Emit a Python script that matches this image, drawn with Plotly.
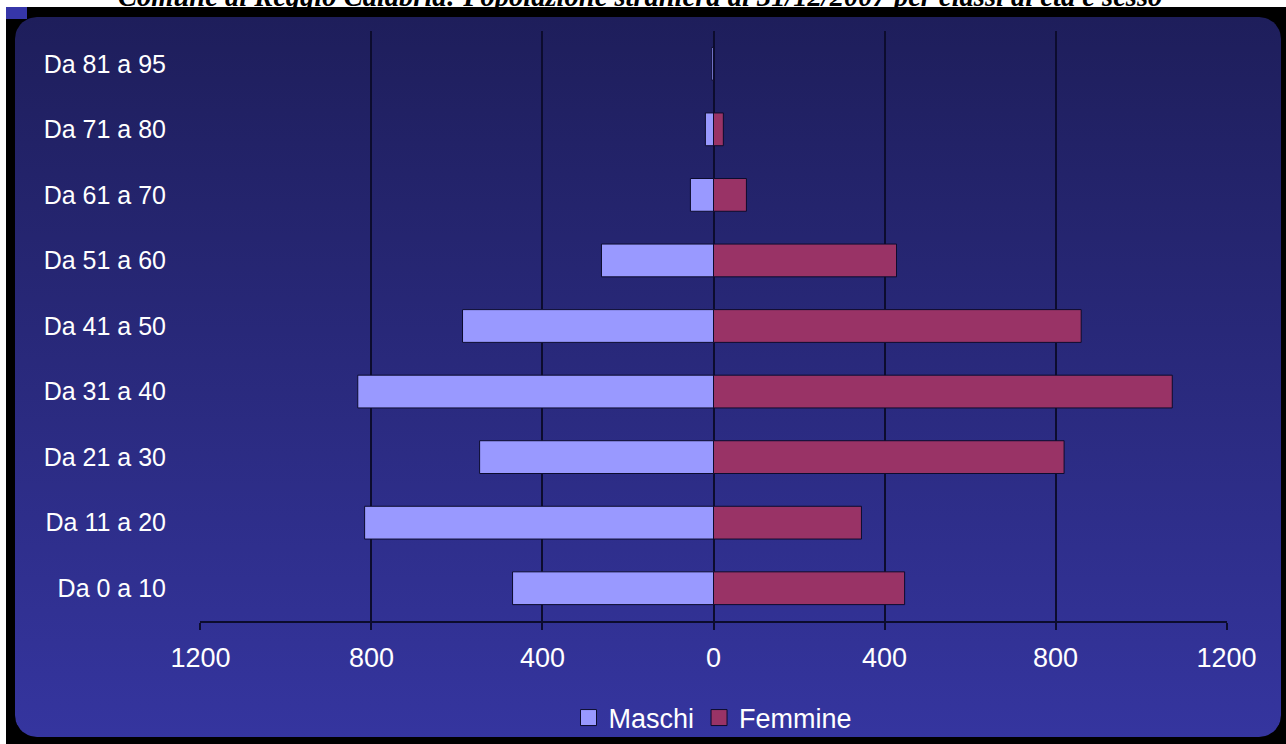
import numpy as np
import plotly.graph_objects as go

# ---------------- data ----------------
categories = ["Da 0 a 10", "Da 11 a 20", "Da 21 a 30", "Da 31 a 40", "Da 41 a 50",
              "Da 51 a 60", "Da 61 a 70", "Da 71 a 80", "Da 81 a 95"]
maschi = [470, 816, 547, 832, 587, 262, 54, 19, 4]
femmine = [447, 346, 820, 1073, 860, 428, 77, 23, 1]
tick_vals = [-1200, -800, -400, 0, 400, 800, 1200]
tick_text = ["1200", "800", "400", "0", "400", "800", "1200"]
title_text = "Comune di Reggio Calabria: Popolazione straniera al 31/12/2007 per classi di età e sesso"

W, H = 1286, 744


def px(x):
    return x / W


def py(y):
    return 1 - y / H


# rounded panel outline (pixel geometry)
L, T, R, B, rad = 15, 17, 1281, 737, 22
pts = []
for cx, cy, a0 in [(R - rad, T + rad, -90), (R - rad, B - rad, 0), (L + rad, B - rad, 90), (L + rad, T + rad, 180)]:
    for a in np.linspace(a0, a0 + 90, 12):
        t = np.radians(a)
        pts.append((cx + rad * np.cos(t), cy + rad * np.sin(t)))
pts.append(pts[0])
panel_x = [p[0] for p in pts]
panel_y = [H - p[1] for p in pts]

fig = go.Figure()

fig.add_trace(go.Scatter(
    x=panel_x, y=panel_y, mode="lines", fill="toself",
    line=dict(width=0, color="rgba(0,0,0,0)"),
    fillgradient=dict(type="vertical", colorscale=[[0, "#35359f"], [1, "#1e1e5b"]]),
    hoverinfo="skip", showlegend=False, xaxis="x", yaxis="y"))

dark = "#0c0c2e"
fig.add_trace(go.Bar(
    y=categories, x=[-v for v in maschi], orientation="h", name="Maschi",
    marker=dict(color="#9999ff", line=dict(color=dark, width=1)),
    customdata=maschi, hovertemplate="%{y}: %{customdata}<extra>Maschi</extra>",
    showlegend=False, xaxis="x2", yaxis="y2"))
fig.add_trace(go.Bar(
    y=categories, x=femmine, orientation="h", name="Femmine",
    marker=dict(color="#993366", line=dict(color=dark, width=1)),
    hovertemplate="%{y}: %{x}<extra>Femmine</extra>",
    showlegend=False, xaxis="x2", yaxis="y2"))

# legend entries
for nm, col in [("Maschi", "#9999ff"), ("Femmine", "#993366")]:
    fig.add_trace(go.Scatter(
        x=[None], y=[None], mode="markers", name=nm,
        marker=dict(symbol="square", size=16, color=col, line=dict(color=dark, width=1)),
        xaxis="x", yaxis="y"))

fig.update_layout(
    width=W, height=H,
    margin=dict(l=0, r=0, t=0, b=0, autoexpand=False),
    paper_bgcolor="white",
    plot_bgcolor="rgba(0,0,0,0)",
    barmode="relative",
    bargap=0.5,
    font=dict(family="Arial, Liberation Sans, sans-serif", color="white"),
    xaxis=dict(domain=[0, 1], range=[0, W], visible=False, fixedrange=True, automargin=False),
    yaxis=dict(domain=[0, 1], range=[0, H], visible=False, fixedrange=True, automargin=False),
    xaxis2=dict(domain=[px(200), px(1227)], anchor="y2", range=[-1201, 1201],
                tickvals=tick_vals, ticktext=tick_text, automargin=False,
                showgrid=True, gridcolor=dark, gridwidth=1.5,
                zeroline=True, zerolinecolor=dark, zerolinewidth=1.5,
                showline=True, linecolor=dark, linewidth=1.5,
                ticks="outside", ticklen=7, tickwidth=1.5, tickcolor=dark,
                ticklabelstandoff=5,
                tickfont=dict(size=27, color="white")),
    yaxis2=dict(domain=[py(621), py(31)], anchor="x2", automargin=False,
                categoryorder="array", categoryarray=categories,
                showgrid=False, zeroline=False, showline=False, ticks="",
                ticklabelstandoff=33,
                tickfont=dict(size=25, color="white")),
    legend=dict(orientation="h", x=px(713), xanchor="center", y=py(718), yanchor="middle",
                font=dict(size=27, color="white"), bgcolor="rgba(0,0,0,0)",
                itemclick=False, itemdoubleclick=False),
    shapes=[
        dict(type="rect", xref="paper", yref="paper", x0=px(6), x1=px(W), y0=py(H), y1=py(7),
             fillcolor="black", line=dict(width=0), layer="below"),
        dict(type="rect", xref="paper", yref="paper", x0=px(6), x1=px(27), y0=py(19), y1=py(7),
             fillcolor="#3636a8", line=dict(width=0), layer="below"),
    ],
    annotations=[
        dict(text="<b><i>" + title_text + "</i></b>", xref="paper", yref="paper",
             x=px(640), y=py(-3), xanchor="center", yanchor="middle", showarrow=False,
             font=dict(family="Liberation Serif, Times New Roman, serif", size=28.5, color="black")),
    ],
)

fig.write_html("out.html", config={"displayModeBar": False},
               post_script="document.body.style.margin='0';")
